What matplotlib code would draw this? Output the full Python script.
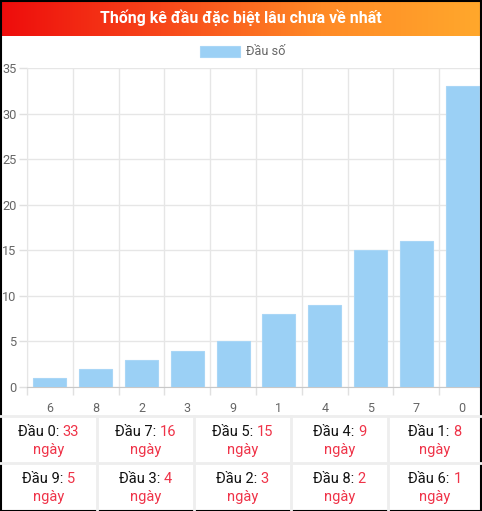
import matplotlib
matplotlib.use("Agg")
import matplotlib.pyplot as plt
import numpy as np
from matplotlib.patches import Rectangle
from matplotlib.lines import Line2D
from matplotlib.colors import LinearSegmentedColormap

plt.rcParams['font.family'] = ['Roboto', 'DejaVu Sans']

title = "Thống kê đầu đặc biệt lâu chưa về nhất"
legend_label = "Đầu số"
categories = ['6', '8', '2', '3', '9', '1', '4', '5', '7', '0']
values = [1, 2, 3, 4, 5, 8, 9, 15, 16, 33]
y_ticks = [0, 5, 10, 15, 20, 25, 30, 35]

W, H = 482, 511
fig = plt.figure(figsize=(W / 100, H / 100), dpi=100)
fig.patch.set_facecolor('white')

def fx(px):
    return px / W

def fy(py):
    return 1 - py / H

# Header gradient
hax = fig.add_axes([0, fy(36), 1, 36 / H])
cmap = LinearSegmentedColormap.from_list('hdr', ['#ee0c0c', '#f7461a', '#ff8a26', '#ffa82c'])
grad = np.linspace(0, 1, 256).reshape(1, -1)
hax.imshow(grad, aspect='auto', cmap=cmap, extent=[0, 1, 0, 1])
hax.set_axis_off()
hax.text(0.5, 0.5, title, color='white', fontsize=11.4, fontweight='bold',
         ha='center', va='center', transform=hax.transAxes)

# Main chart axes
left, right, top, bottom = 27, 485, 68, 387
ax = fig.add_axes([fx(left), fy(bottom), fx(right) - fx(left), fy(top) - fy(bottom)])
x = np.arange(len(categories))
ax.bar(x, values, width=0.72, color='#9bd0f5', edgecolor='#a9d6f6', linewidth=0.8,
       label=legend_label, zorder=3)
ax.set_xlim(-0.5, len(categories) - 0.5)
ax.set_ylim(0, 35)
ax.set_yticks(y_ticks)
ax.set_xticks(x)
ax.set_xticklabels(categories)
ax.set_xticks(np.arange(-0.5, len(categories), 1.0), minor=True)
ax.grid(True, axis='y', which='major', color='#e6e6e6', linewidth=1, zorder=0)
ax.grid(True, axis='x', which='minor', color='#e6e6e6', linewidth=1, zorder=0)
ax.tick_params(axis='x', which='major', length=0, pad=10.5, labelsize=9.0, labelcolor='#666666')
ax.tick_params(axis='x', which='minor', length=6, color='#e0e0e0', width=1)
ax.tick_params(axis='y', which='major', length=6, color='#e0e0e0', width=1, pad=1.5,
               labelsize=9.2, labelcolor='#666666')
for s in ['top', 'right']:
    ax.spines[s].set_visible(False)
ax.spines['bottom'].set_color('#c8c8c8')
ax.spines['left'].set_color('#e6e6e6')
ax.set_axisbelow(True)

# Legend (manual, centered)
fig.add_artist(Rectangle((fx(200), fy(57)), fx(240) - fx(200), (57 - 46) / H,
                         facecolor='#9bd0f5', edgecolor='#a9d6f6', linewidth=0.8,
                         transform=fig.transFigure))
fig.text(fx(246), fy(51.5), legend_label, fontsize=9.2, color='#666666',
         ha='left', va='center')

# Table below
order = np.argsort(values)[::-1]
cells = [(categories[i], values[i]) for i in order]
col_edges = [0, 97, 194, 291, 388, 482]
row_edges = [416, 463, 510]
line_c = '#eeeeee'
for yy in row_edges[:-1]:
    fig.add_artist(Line2D([0, 1], [fy(yy), fy(yy)], color=line_c, linewidth=2,
                          transform=fig.transFigure))
for xx in col_edges[1:-1]:
    fig.add_artist(Line2D([fx(xx), fx(xx)], [fy(row_edges[0]), fy(row_edges[-1])],
                          color=line_c, linewidth=2, transform=fig.transFigure))

red = '#ef3348'
fs = 10.5
renderer = fig.canvas.get_renderer()
for k, (cat, val) in enumerate(cells):
    r, c = divmod(k, 5)
    cx = (col_edges[c] + col_edges[c + 1]) / 2
    y1 = row_edges[r] + 16
    y2 = row_edges[r] + 34
    t1 = fig.text(0, fy(y1), f"Đầu {cat}: ", fontsize=fs, color='#111111', ha='left', va='center')
    t2 = fig.text(0, fy(y1), f"{val}", fontsize=fs, color=red, ha='left', va='center')
    w1 = t1.get_window_extent(renderer).width
    w2 = t2.get_window_extent(renderer).width
    start = cx - (w1 + w2) / 2
    t1.set_x(fx(start))
    t2.set_x(fx(start + w1))
    fig.text(fx(cx), fy(y2), "ngày", fontsize=fs, color=red, ha='center', va='center')

# Outer border
fig.add_artist(Rectangle((0.5 / W, 0.5 / H), 1 - 2 / W, 1 - 1.2 / H, fill=False,
                         edgecolor='black', linewidth=1.5, transform=fig.transFigure))

fig.savefig('out.png', dpi=100, facecolor='white')
